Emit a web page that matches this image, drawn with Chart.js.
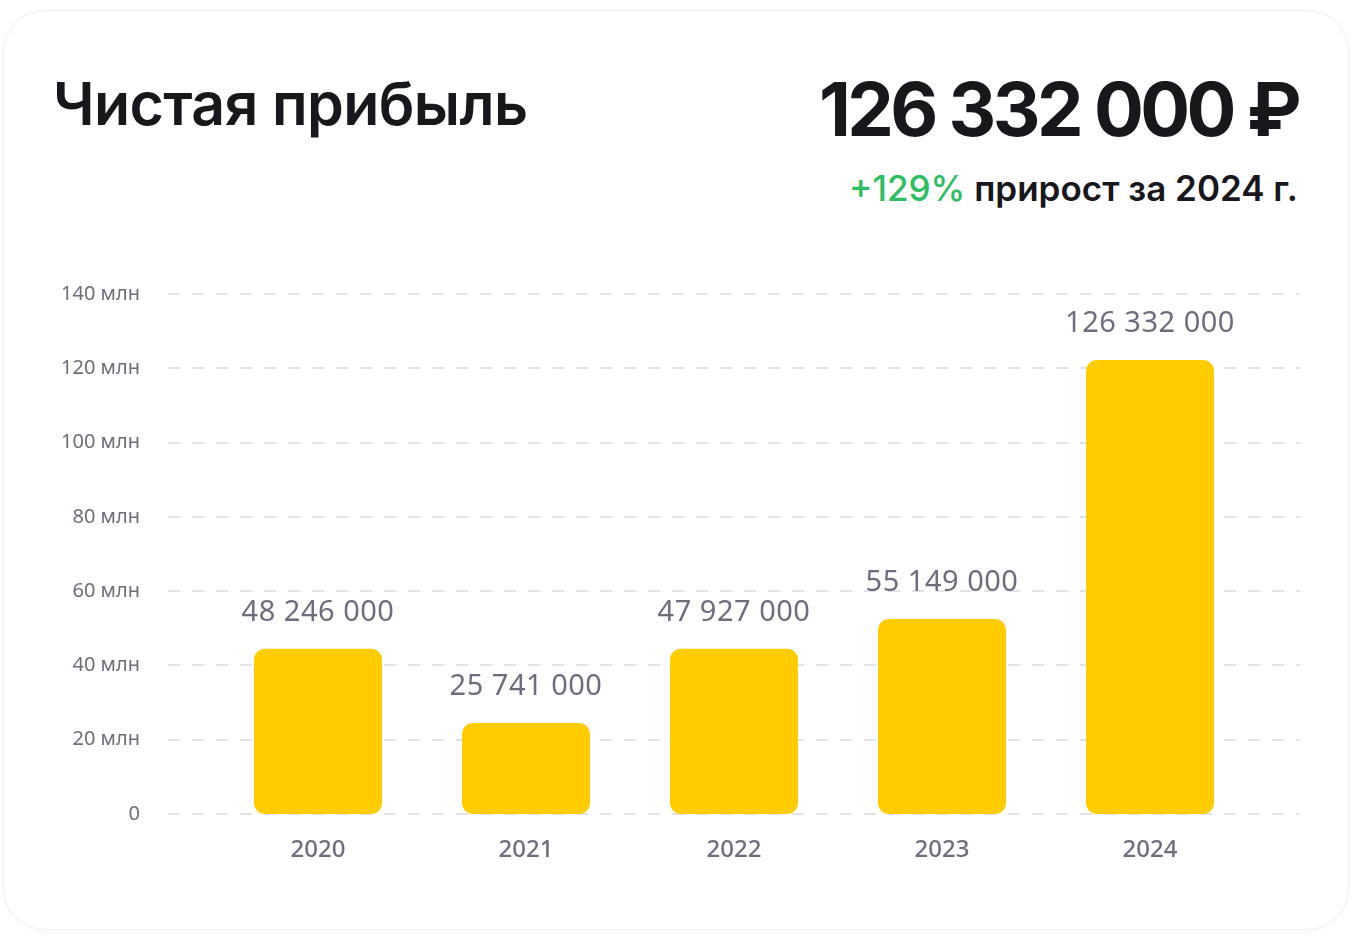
<!DOCTYPE html>
<html lang="ru">
<head>
<meta charset="utf-8">
<title>Чистая прибыль</title>
<script src="https://cdn.jsdelivr.net/npm/chart.js@4.4.1/dist/chart.umd.min.js"></script>
<style>
  html, body { margin: 0; padding: 0; background: #fff; width: 1352px; height: 936px; overflow: hidden; }
  .card {
    position: absolute; left: 3px; top: 10px; width: 1344px; height: 918px;
    border: 1px solid #eeeff2; border-radius: 42px; background: #fff;
    box-shadow: 0 2px 6px rgba(0,0,0,0.03);
  }
  .title {
    position: absolute; left: 53px; top: 74px; margin: 0;
    font-family: Inter, "Noto Sans", sans-serif; font-weight: 600; font-size: 59px;
    color: #17171c; letter-spacing: -0.6px; line-height: 1;
  }
  .total {
    position: absolute; right: 54px; top: 72px; margin: 0;
    font-family: Inter, "Noto Sans", sans-serif; font-weight: 700; font-size: 74px;
    color: #17171c; letter-spacing: -3.6px; line-height: 1;
  }
  .growth {
    position: absolute; right: 54px; top: 171px; margin: 0;
    font-family: Inter, "Noto Sans", sans-serif; font-weight: 600; font-size: 35px;
    color: #17171c; line-height: 1; letter-spacing: 0px;
  }
  .growth span { color: #2dbd63; font-weight: 500; }
  #wrap { position: absolute; left: 0; top: 0; width: 1352px; height: 936px; }
</style>
</head>
<body>
<div class="card"></div>
<h1 class="title">Чистая прибыль</h1>
<div class="total">126 332 000 ₽</div>
<div class="growth"><span>+129%</span> прирост за 2024 г.</div>
<div id="wrap"><canvas id="bar-chart"></canvas></div>

<script>
// годы
const years = ['2020', '2021', '2022', '2023', '2024'];
// высоты столбцов, млн руб. (как нарисовано)
const barValues = [44.5, 24.5, 44.5, 52.5, 122.2];
// подписи над столбцами
const valueLabels = ['48 246 000', '25 741 000', '47 927 000', '55 149 000', '126 332 000'];
// подписи оси Y
const yTickLabels = ['0', '20 млн', '40 млн', '60 млн', '80 млн', '100 млн', '120 млн', '140 млн'];

const GRAY = '#6c6e7b';

// пунктирная сетка шире области графика
const dashedGrid = {
  id: 'dashedGrid',
  beforeDatasetsDraw(chart) {
    const ctx = chart.ctx;
    const y = chart.scales.y;
    ctx.save();
    ctx.setLineDash([12, 12]);
    ctx.strokeStyle = '#e2e3e8';
    ctx.lineWidth = 2;
    y.ticks.forEach((t, i) => {
      const py = Math.round(y.getPixelForTick(i));
      ctx.beginPath();
      ctx.moveTo(168, py);
      ctx.lineTo(1300, py);
      ctx.stroke();
    });
    ctx.restore();
  }
};

// подписи значений над столбцами
const barLabels = {
  id: 'barLabels',
  afterDatasetsDraw(chart) {
    const ctx = chart.ctx;
    const meta = chart.getDatasetMeta(0);
    ctx.save();
    ctx.fillStyle = GRAY;
    ctx.font = '400 29px "Noto Sans", Inter, sans-serif';
    ctx.letterSpacing = '0.5px';
    ctx.textAlign = 'center';
    ctx.textBaseline = 'middle';
    meta.data.forEach((bar, i) => {
      ctx.fillText(valueLabels[i], bar.x, bar.y - 36);
    });
    ctx.restore();
  }
};

const ctx = document.getElementById('bar-chart').getContext('2d');
const chart = new Chart(ctx, {
  type: 'bar',
  data: {
    labels: years,
    datasets: [
      {
        label: 'Чистая прибыль',
        data: barValues,
        backgroundColor: '#ffcc00',
        borderRadius: 11,
        borderSkipped: false,
        categoryPercentage: 1,
        barPercentage: 0.615,
      },
    ],
  },
  options: {
    responsive: true,
    maintainAspectRatio: false,
    animation: false,
    layout: {
      padding: { left: 0, right: 98, top: 294, bottom: 39 },
    },
    scales: {
      y: {
        min: 0,
        max: 140,
        afterFit: (scale) => { scale.width = 214; },
        grid: { display: false, drawTicks: false },
        border: { display: false },
        ticks: {
          stepSize: 20,
          padding: 74,
          color: GRAY,
          font: { family: '"Noto Sans", Inter, sans-serif', size: 20 },
          callback: (value, index) => yTickLabels[index],
        },
      },
      x: {
        afterFit: (scale) => { scale.height = 83; },
        grid: { display: false, drawTicks: false },
        border: { display: false },
        ticks: {
          padding: 22,
          color: GRAY,
          font: { family: '"Noto Sans", Inter, sans-serif', size: 24, weight: '500' },
        },
      },
    },
    plugins: {
      legend: { display: false },
      tooltip: { enabled: false },
    },
  },
  plugins: [dashedGrid, barLabels],
});
</script>
</body>
</html>
